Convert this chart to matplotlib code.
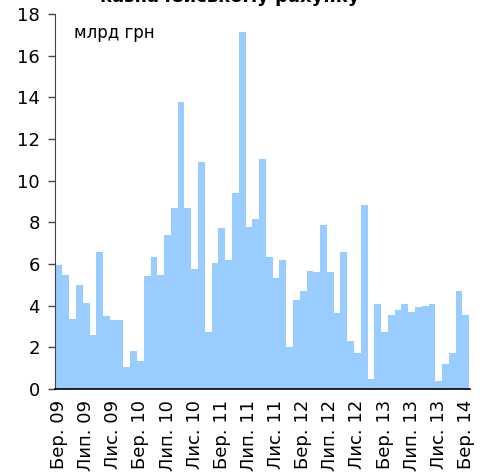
import matplotlib.pyplot as plt
import numpy as np

plt.rcParams['font.family'] = ['DejaVu Sans']

# monthly values, Бер. 09 .. Бер. 14 (61 months)
values = [5.95, 5.47, 3.36, 4.99, 4.13, 2.61, 6.58, 3.50, 3.31, 3.31,
          1.07, 1.82, 1.36, 5.42, 6.34, 5.47, 7.39, 8.69, 13.78, 8.69,
          5.78, 10.9, 2.74, 6.05, 7.73, 6.21, 9.42, 17.14, 7.78, 8.16,
          11.04, 6.34, 5.33, 6.19, 2.02, 4.27, 4.70, 5.66, 5.62, 7.87,
          5.62, 3.65, 6.58, 2.30, 1.73, 8.83, 0.48, 4.08, 2.74, 3.55,
          3.79, 4.08, 3.70, 3.94, 3.98, 4.08, 0.38, 1.20, 1.73, 4.70,
          3.55]
tick_labels = ['Бер. 09', 'Лип. 09', 'Лис. 09', 'Бер. 10', 'Лип. 10', 'Лис. 10',
               'Бер. 11', 'Лип. 11', 'Лис. 11', 'Бер. 12', 'Лип. 12', 'Лис. 12',
               'Бер. 13', 'Лип. 13', 'Лис. 13', 'Бер. 14']
title = 'Залишки коштів на єдиному\nказначейському рахунку'
unit = 'млрд грн'

fig = plt.figure(figsize=(4.88, 4.73), dpi=100)
ax = fig.add_axes([0.1127, 0.1776, 0.8503, 0.7928])

x = np.arange(len(values))
ax.bar(x, values, width=1.0, color='#99CCFF', linewidth=0)

ax.set_xlim(-0.6, len(values) - 0.4)
ax.set_ylim(0, 18)
ax.set_yticks(range(0, 19, 2))
ax.tick_params(axis='y', labelsize=13, length=5, width=1, pad=6, color='#444444')
ax.set_xticks(x[::4])
ax.set_xticklabels(tick_labels, rotation=90, fontsize=13)
ax.tick_params(axis='x', length=0, pad=8)

for s in ['top', 'right']:
    ax.spines[s].set_visible(False)
ax.spines['left'].set_color('#444444')
ax.spines['bottom'].set_linewidth(1.2)

ax.text(0.045, 0.95, unit, transform=ax.transAxes, fontsize=12, va='center', ha='left')
# title sits partly above the canvas, as in the reference
fig.text(0.47, 1.0 - 6 / 473, title, ha='center', va='bottom', fontsize=13,
         fontweight='bold', linespacing=1.1)

fig.savefig('out.png', dpi=100)
